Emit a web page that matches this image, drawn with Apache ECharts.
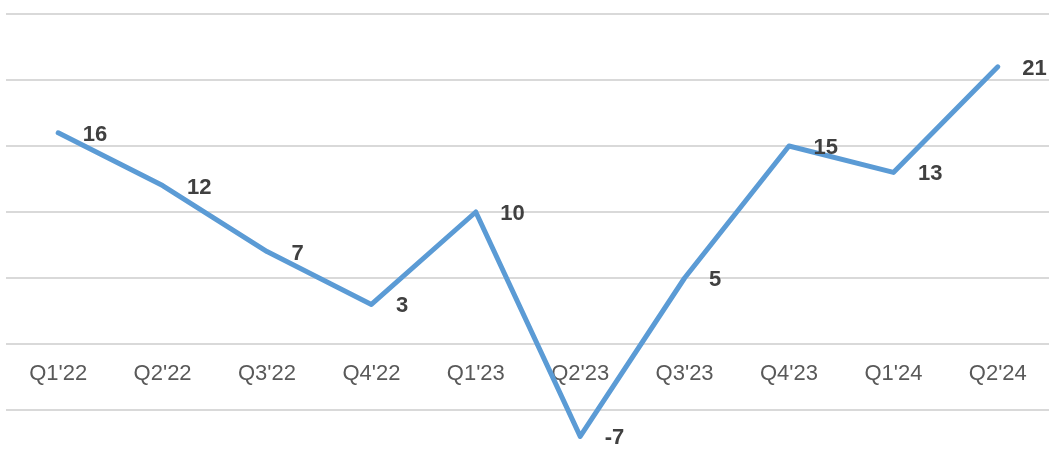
<!DOCTYPE html>
<html>
<head>
<meta charset="utf-8">
<script src="https://cdn.jsdelivr.net/npm/echarts@6/dist/echarts.min.js"></script>
<style>
  html, body { margin: 0; padding: 0; background: #fff; }
  #chart { width: 1049px; height: 472px; }
</style>
</head>
<body>
<div id="chart"></div>
<script>
var quarters = ["Q1'22", "Q2'22", "Q3'22", "Q4'22", "Q1'23", "Q2'23", "Q3'23", "Q4'23", "Q1'24", "Q2'24"];
var values = [16, 12, 7, 3, 10, -7, 5, 15, 13, 21];

var myChart = echarts.init(document.getElementById('chart'));
var option = {
  animation: false,
  grid: { left: 6, right: -1, top: 14, bottom: -4, outerBoundsMode: 'none', containLabel: false },
  xAxis: {
    type: 'category',
    data: quarters,
    boundaryGap: true,
    position: 'bottom',
    offset: -132,   // sit the labels on the zero line
    axisLine: { show: false, onZero: false },
    axisTick: { show: false },
    axisLabel: {
      margin: 19,
      fontSize: 22,
      color: '#595959',
      fontFamily: 'Liberation Sans, Arial, sans-serif'
    }
  },
  yAxis: {
    type: 'value',
    min: -10,
    max: 25,
    interval: 5,
    axisLabel: { show: false },
    axisLine: { show: false },
    axisTick: { show: false },
    splitLine: { lineStyle: { color: '#d9d9d9', width: 2 } }
  },
  series: [{
    type: 'line',
    data: values,
    symbol: 'circle',
    symbolSize: 1,
    showSymbol: true,
    itemStyle: { color: 'rgba(91,155,213,0)' },
    lineStyle: { color: '#5b9bd5', width: 5, cap: 'round', join: 'round' },
    label: {
      show: true,
      position: 'right',
      distance: 24,
      offset: [0, 2],
      fontSize: 22,
      fontWeight: 'bold',
      color: '#404040',
      fontFamily: 'Liberation Sans, Arial, sans-serif'
    },
    z: 3
  }]
};
option && myChart.setOption(option);
</script>
</body>
</html>
